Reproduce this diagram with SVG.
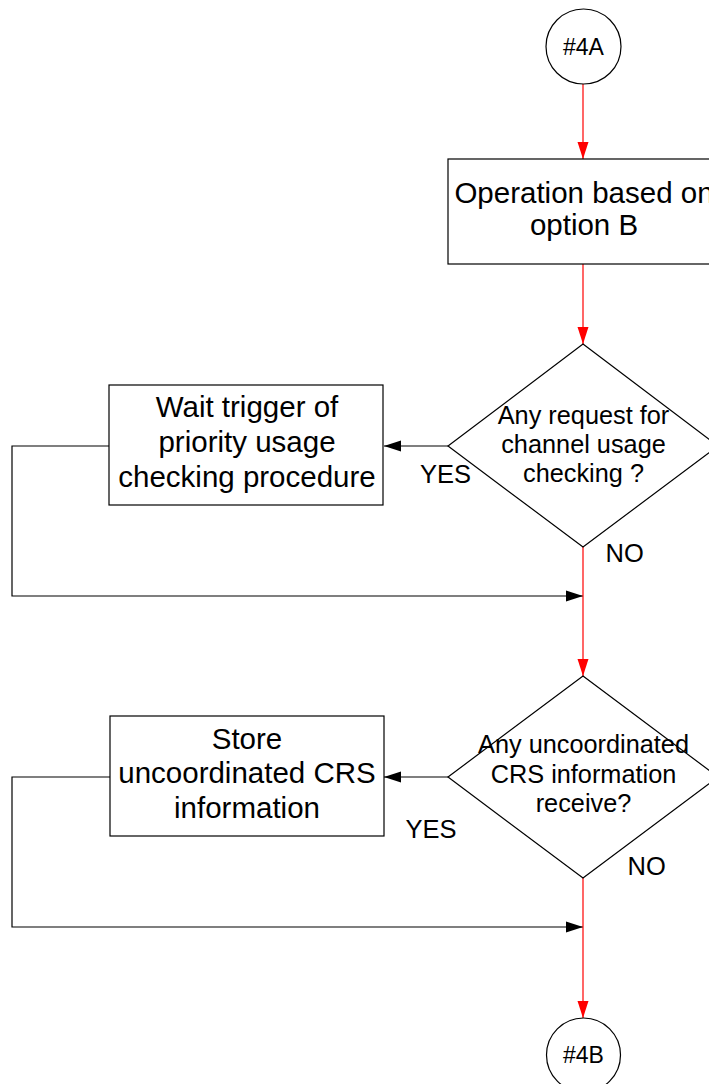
<svg xmlns="http://www.w3.org/2000/svg" width="709" height="1084" viewBox="0 0 709 1084">
<style>
.shape{fill:#fff;stroke:#000;stroke-width:1.2}
.big{font-family:"Liberation Sans",Arial,sans-serif;font-size:29.5px;fill:#000;text-anchor:middle}
.mid{font-family:"Liberation Sans",Arial,sans-serif;font-size:25.3px;fill:#000;text-anchor:middle}
.cir{font-family:"Liberation Sans",Arial,sans-serif;font-size:23px;fill:#000;text-anchor:middle}
.lbl{font-family:"Liberation Sans",Arial,sans-serif;font-size:25.5px;fill:#000}
.red{fill:none;stroke:#ff0000;stroke-width:1.2}
.blk{fill:none;stroke:#000;stroke-width:1.2}
</style>
<defs>
<marker id="ar" markerWidth="17" markerHeight="11" refX="17" refY="5.5" viewBox="0 0 17 11" markerUnits="userSpaceOnUse" orient="auto" overflow="visible">
<path d="M0,0 L17,5.5 L0,11 Z" fill="#ff0000"/>
</marker>
<marker id="ab" markerWidth="17" markerHeight="11" refX="17" refY="5.5" viewBox="0 0 17 11" markerUnits="userSpaceOnUse" orient="auto" overflow="visible">
<path d="M0,0 L17,5.5 L0,11 Z" fill="#000"/>
</marker>
</defs>
<g id="connectors">
<line class="red" x1="583" y1="84" x2="583" y2="159" marker-end="url(#ar)"/>
<line class="red" x1="583" y1="264" x2="583" y2="344" marker-end="url(#ar)"/>
<line class="blk" x1="448" y1="446" x2="384" y2="446" marker-end="url(#ab)"/>
<polyline class="blk" points="109,446 12,446 12,596 583,596" marker-end="url(#ab)"/>
<line class="red" x1="583" y1="547" x2="583" y2="676" marker-end="url(#ar)"/>
<line class="blk" x1="448" y1="777" x2="384" y2="777" marker-end="url(#ab)"/>
<polyline class="blk" points="110,777 12,777 12,927 583,927" marker-end="url(#ab)"/>
<line class="red" x1="583" y1="878" x2="583" y2="1018" marker-end="url(#ar)"/>
</g>
<g id="start4A">
<circle class="shape" cx="583.5" cy="46.5" r="37.5"/>
<text class="cir" x="583.5" y="54.5">#4A</text>
</g>
<g id="opB">
<rect class="shape" x="448" y="159" width="272" height="105"/>
<text class="big" x="584" y="203">Operation based on</text>
<text class="big" x="584" y="235">option B</text>
</g>
<g id="dec1">
<polygon class="shape" points="583,344 718,446 583,547 448,446"/>
<text class="mid" x="583.5" y="424">Any request for</text>
<text class="mid" x="583.5" y="453">channel usage</text>
<text class="mid" x="583.5" y="482">checking ?</text>
</g>
<text class="lbl" x="420" y="483">YES</text>
<text class="lbl" x="605.5" y="561.5">NO</text>
<g id="wait">
<rect class="shape" x="109" y="385" width="274" height="120"/>
<text class="big" x="247" y="417">Wait trigger of</text>
<text class="big" x="247" y="452">priority usage</text>
<text class="big" x="247" y="487">checking procedure</text>
</g>
<g id="dec2">
<polygon class="shape" points="583,676 718,777 583,878 448,777"/>
<text class="mid" x="583.5" y="753">Any uncoordinated</text>
<text class="mid" x="583.5" y="783">CRS information</text>
<text class="mid" x="583.5" y="812">receive?</text>
</g>
<text class="lbl" x="405.5" y="838">YES</text>
<text class="lbl" x="627.5" y="875">NO</text>
<g id="store">
<rect class="shape" x="110" y="716" width="274" height="120"/>
<text class="big" x="247" y="749">Store</text>
<text class="big" x="247" y="783">uncoordinated CRS</text>
<text class="big" x="247" y="818">information</text>
</g>
<g id="end4B">
<circle class="shape" cx="583.5" cy="1055" r="37"/>
<text class="cir" x="583.5" y="1063">#4B</text>
</g>
</svg>
